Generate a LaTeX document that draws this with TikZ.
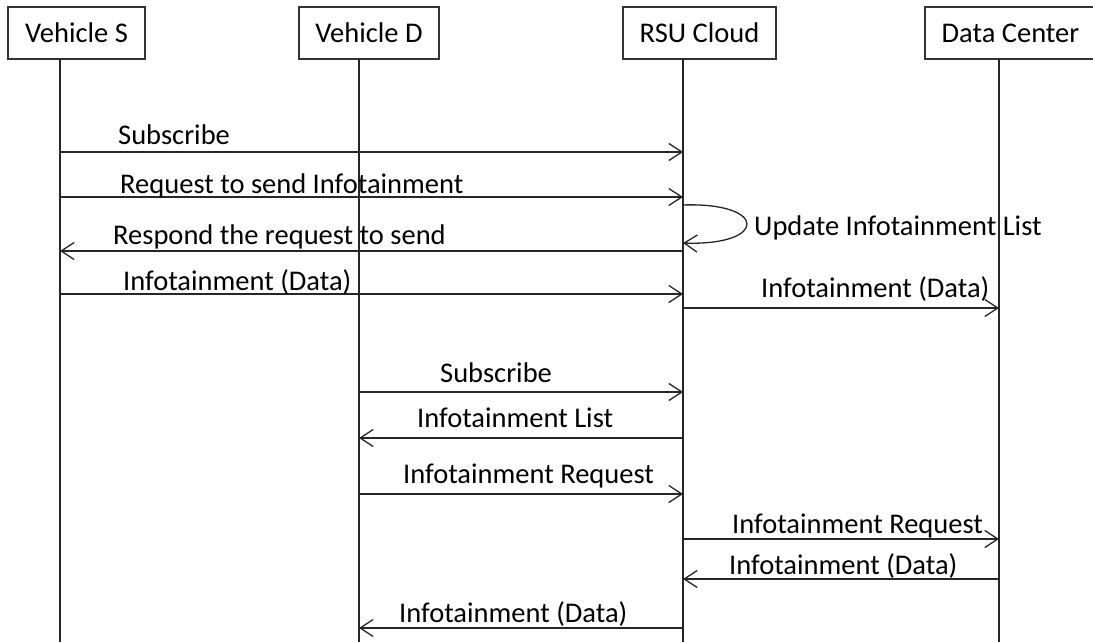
\documentclass[tikz,border=0pt]{standalone}
\usepackage{fontspec}
\setmainfont{Carlito}
\usetikzlibrary{arrows.meta}
\begin{document}
\begin{tikzpicture}[x=1pt,y=-1pt,
  actor/.style={draw=black!80,line width=1.2pt,minimum height=52pt,inner sep=0pt,
    font=\fontsize{28.5}{30}\selectfont},
  life/.style={draw=black!85,line width=1.3pt},
  msg/.style={draw=black!85,line width=1.3pt,
    -{Straight Barb[length=13pt,width=17pt,line width=1.3pt]}},
  lbl/.style={anchor=base west,inner sep=0pt,font=\fontsize{28.5}{30}\selectfont}]
\useasboundingbox (0,0) rectangle (1093,642);

% participants
\node[actor,minimum width=137pt] (vs) at (76.5,33) {Vehicle S};
\node[actor,minimum width=140pt] (vd) at (369,33) {Vehicle D};
\node[actor,minimum width=153pt] (rsu) at (699.5,33) {RSU Cloud};
\node[actor,minimum width=185pt] (dc) at (1017.5,33) {Data Center\hspace*{14pt}};

% lifelines
\coordinate (ls) at (60,59);
\coordinate (ld) at (359,59);
\coordinate (lr) at (683,59);
\coordinate (lc) at (999,59);
\coordinate (bot) at (0,642);
\foreach \l in {ls,ld,lr,lc} \draw[life] (\l) -- (\l |- bot);

% message rows
\coordinate (y1) at (0,152);
\coordinate (y2) at (0,197);
\coordinate (y3) at (0,251);
\coordinate (y4) at (0,294);
\coordinate (y5) at (0,308);
\coordinate (y6) at (0,392);
\coordinate (y7) at (0,438);
\coordinate (y8) at (0,494);
\coordinate (y9) at (0,539);
\coordinate (y10) at (0,579);
\coordinate (y11) at (0,628);
\coordinate (la) at (0,205);
\coordinate (lb) at (0,243);

% Vehicle S publishes
\draw[msg] (ls |- y1) -- (lr |- y1);
\node[lbl] (t1) at (118,144) {Subscribe};
\draw[msg] (ls |- y2) -- (lr |- y2);
\node[lbl] (t2) at (120,193) {Request to send Infotainment};
\draw[msg] (lr |- la) .. controls (768,202) and (768,246) .. (lr |- lb);
\node[lbl] (t5) at (754,235) {Update Infotainment List};
\draw[msg] (lr |- y3) -- (ls |- y3);
\node[lbl] (t3) at (113,244) {Respond the request to send};
\draw[msg] (ls |- y4) -- (lr |- y4);
\node[lbl] (t4) at (123,290) {Infotainment (Data)};
\draw[msg] (lr |- y5) -- (lc |- y5);
\node[lbl] (t6) at (761,297) {Infotainment (Data)};

% Vehicle D consumes
\draw[msg] (ld |- y6) -- (lr |- y6);
\node[lbl] (t7) at (440,382) {Subscribe};
\draw[msg] (lr |- y7) -- (ld |- y7);
\node[lbl] (t8) at (417,427) {Infotainment List};
\draw[msg] (ld |- y8) -- (lr |- y8);
\node[lbl] (t9) at (403,483) {Infotainment Request};
\draw[msg] (lr |- y9) -- (lc |- y9);
\node[lbl] (t10) at (732,533) {Infotainment Request};
\draw[msg] (lc |- y10) -- (lr |- y10);
\node[lbl] (t11) at (729,574) {Infotainment (Data)};
\draw[msg] (lr |- y11) -- (ld |- y11);
\node[lbl] (t12) at (399,622) {Infotainment (Data)};
\end{tikzpicture}
\end{document}
